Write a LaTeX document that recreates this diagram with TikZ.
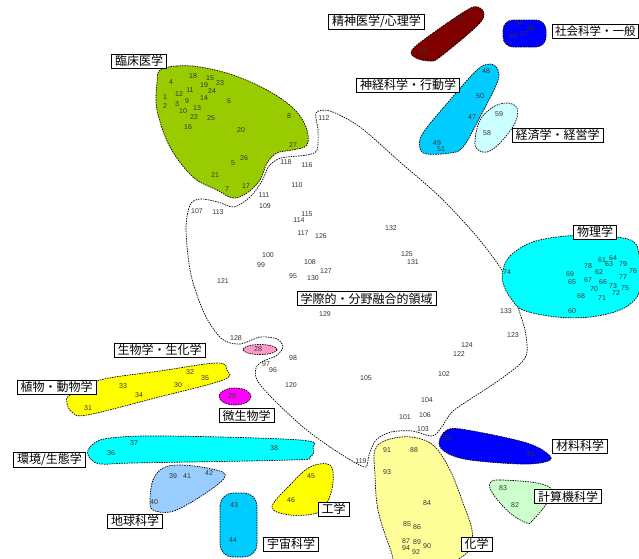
\documentclass[tikz,border=0pt]{standalone}
\usepackage{fontspec}
\setmainfont{Liberation Sans}
\newfontfamily\jpfont{Noto Sans CJK JP}
\usepackage{tikz}
\usetikzlibrary{positioning}

\definecolor{clingreen}{HTML}{99CC00}
\definecolor{psyred}{HTML}{800000}
\definecolor{socblue}{HTML}{0000FF}
\definecolor{neurocyan}{HTML}{00CCFF}
\definecolor{econcyan}{HTML}{CCFFFF}
\definecolor{physcyan}{HTML}{00FFFF}
\definecolor{plantyellow}{HTML}{FFFF00}
\definecolor{biopink}{HTML}{FF99CC}
\definecolor{micromagenta}{HTML}{FF00FF}
\definecolor{earthblue}{HTML}{99CCFF}
\definecolor{chemyellow}{HTML}{FFFF99}
\definecolor{compgreen}{HTML}{CCFFCC}

\tikzset{
  blob/.style={draw=black, dash pattern=on 1.5pt off 1pt, line width=0.7pt},
  num/.style={font=\fontsize{7}{8}\selectfont, text=black!80, inner sep=0pt},
  field/.style={draw=black, fill=white, line width=0.7pt,
    font=\jpfont\fontsize{12}{13}\selectfont, inner xsep=3.5pt, inner ysep=1.5pt}
}

\begin{document}
\begin{tikzpicture}[x=1pt,y=-1pt]
	\useasboundingbox (0,0) rectangle (639,558);
	% interdisciplinary region
	\draw[blob, fill=white] plot[smooth cycle, tension=0.5] coordinates {
		(316,113) (330,111) (360,127) (400,162) (440,197) (478,238) (505,275)
		(517,305) (525,330) (527,352) (520,364) (498,381) (472,398) (452,412)
		(441,428) (432,436) (412,431) (391,432) (376,440) (369,455) (366,467)
		(354,462) (330,447) (303,427) (272,398) (257,380) (256,368) (263,361)
		(276,356) (283,347) (277,339) (260,337) (240,344) (222,339) (205,315)
		(191,275) (186,230) (190,205) (200,199) (218,202) (234,207) (250,197)
		(262,181) (269,166) (281,158) (307,155) (317,150) (318,130)};
	% clusters
	\draw[blob, fill=clingreen] plot[smooth cycle, tension=0.6] coordinates {
		(160,70) (177,66) (200,67) (233,75) (267,90) (293,108) (306,127) (307,145)
		(292,150) (277,153) (267,163) (260,180) (247,193) (233,198) (217,190)
		(193,177) (170,147) (157,110) (157,83)};
	\draw[blob, fill=psyred] plot[smooth cycle, tension=0.6] coordinates {
		(412,50) (433,33) (467,10) (478,7) (484,14) (477,26) (440,57) (430,61) (416,58)};
	\draw[blob, fill=socblue, rounded corners=10pt] (503,20) rectangle (546,47);
	\draw[blob, fill=neurocyan] plot[smooth cycle, tension=0.6] coordinates {
		(420,148) (423,133) (450,100) (477,70) (490,64) (498,70) (497,83)
		(480,117) (463,147) (450,153) (427,154)};
	\draw[blob, fill=econcyan] plot[smooth cycle, tension=0.6] coordinates {
		(475,140) (480,120) (493,107) (507,103) (517,108) (515,123) (500,143)
		(487,152) (477,149)};
	\draw[blob, fill=physcyan] plot[smooth cycle, tension=0.6] coordinates {
		(503,270) (510,256) (530,243) (557,237) (590,235) (617,237) (634,242)
		(639,255) (640,280) (637,297) (620,310) (590,317) (557,317) (523,310)
		(510,297) (503,283)};
	\draw[blob, fill=plantyellow] plot[smooth cycle, tension=0.6] coordinates {
		(67,403) (72,412) (87,415) (155,398) (223,380) (227,370) (217,363)
		(160,371) (100,380) (70,395)};
	\draw[blob, fill=biopink] (260,349.5) ellipse [x radius=17, y radius=5];
	\draw[blob, fill=micromagenta] (235,396.5) ellipse [x radius=16, y radius=8.5];
	\draw[blob, fill=physcyan] plot[smooth cycle, tension=0.6] coordinates {
		(88,455) (92,445) (110,438) (167,436) (300,440) (313,448) (310,457)
		(290,460) (133,463) (100,464)};
	\draw[blob, fill=earthblue] plot[smooth cycle, tension=0.6] coordinates {
		(150,500) (153,480) (163,468) (180,465) (207,468) (225,474) (217,485)
		(190,503) (170,512) (153,510)};
	\draw[blob, fill=neurocyan, rounded corners=13pt] (220,493) rectangle (257,557);
	\draw[blob, fill=plantyellow] plot[smooth cycle, tension=0.6] coordinates {
		(272,507) (290,485) (310,467) (330,465) (333,483) (327,503) (317,513) (290,515)};
	\draw[blob, fill=chemyellow] plot[smooth cycle, tension=0.6] coordinates {
		(375,450) (387,440) (410,437) (433,445) (450,470) (463,503) (472,530)
		(470,548) (460,558) (440,566) (400,566) (390,548) (378,510) (375,475)};
	\draw[blob, fill=socblue] plot[smooth cycle, tension=0.6] coordinates {
		(439,443) (447,430) (467,430) (527,443) (550,456) (545,462) (520,464)
		(470,460) (447,453)};
	\draw[blob, fill=compgreen] plot[smooth cycle, tension=0.6] coordinates {
		(490,483) (500,480) (537,483) (552,490) (547,503) (533,520) (527,523)
		(510,513) (493,494)};
	% item numbers
	\foreach \i/\x/\y in {1/165/97, 2/165/106, 3/177/104, 4/171/82, 5/233/163,
		6/229/101, 7/227/189, 8/289/116, 9/187/101, 10/183/111, 11/190/90,
		12/179/94, 13/197/108, 14/204/98, 15/210/78, 16/188/127, 17/246/186,
		18/193/76, 19/204/85, 20/241/130, 21/215/175, 22/194/117, 23/220/83,
		24/212/91, 25/211/118, 26/244/158, 27/293/145, 28/258/349, 29/232/396,
		30/178/385, 31/88/408, 32/190/372, 33/123/386, 34/139/395, 35/205/378,
		36/111/453, 37/134/443, 38/274/448, 39/173/476, 40/154/502, 41/187/476,
		42/209/473, 43/234/505, 44/233/540, 45/311/476, 46/291/500}
		\node[num] (n\i) at (\x,\y) {\i};
	\foreach \i/\x/\y in {47/472/117, 48/486/71, 49/437/143, 50/480/96,
		51/441/149, 52/460/19, 53/423/51, 54/519/23, 55/531/28, 56/513/36,
		57/524/34, 58/487/133, 59/499/114, 60/572/311, 61/602/260, 62/599/272,
		63/609/264, 64/613/258, 65/572/282, 66/603/282, 67/588/280, 68/581/296,
		69/570/274, 70/594/289, 71/602/298, 72/616/293, 73/613/286, 74/507/272,
		75/625/288, 76/633/271, 77/623/277, 78/588/266, 79/623/264, 80/448/438,
		81/531/454, 82/515/505, 83/503/488, 84/427/503, 85/407/524, 86/417/527,
		87/406/541, 88/414/450, 89/417/542, 90/427/546, 91/387/450, 92/416/552,
		93/387/472, 94/406/548}
		\node[num] (n\i) at (\x,\y) {\i};
	\foreach \i/\x/\y in {95/293/276, 96/273/370, 97/266/364, 98/293/358,
		99/261/265, 100/268/255, 101/405/417, 102/444/374, 103/423/429,
		104/427/400, 105/366/378, 106/425/415, 107/197/211, 108/310/262,
		109/265/206, 110/297/185, 111/264/195, 112/324/118, 113/218/212,
		114/299/220, 115/307/214, 116/307/165, 117/303/233, 118/286/162,
		119/361/461, 120/291/385, 121/223/281, 122/459/354, 123/513/335,
		124/467/345, 125/407/254, 126/321/236, 127/326/271, 128/236/338,
		129/325/314, 130/313/278, 131/413/262, 132/391/228, 133/506/311}
		\node[num] (n\i) at (\x,\y) {\i};
	% field labels
	\node[field] (clin) at (139,61) {臨床医学};
	\node[field] (psy) at (376.5,21.5) {精神医学/心理学};
	\node[field, anchor=east, font=\jpfont\fontsize{11.5}{12.5}\selectfont,
		inner xsep=2.5pt] (soc) at (638.5,31.5) {社会科学・一般};
	\node[field] (neuro) at (408,85) {神経科学・行動学};
	\node[field] (econ) at (557.5,135) {経済学・経営学};
	\node[field] (phys) at (595,232) {物理学};
	\node[field] (inter) at (366.5,298.5) {学際的・分野融合的領域};
	\node[field] (bio) at (159.5,350) {生物学・生化学};
	\node[field] (plant) at (56.5,387) {植物・動物学};
	\node[field] (micro) at (246.5,415.5) {微生物学};
	\node[field] (env) at (49.5,459.5) {環境/生態学};
	\node[field] (earth) at (135,521) {地球科学};
	\node[field] (space) at (291,544) {宇宙科学};
	\node[field] (eng) at (333.5,509) {工学};
	\node[field] (chem) at (476.5,544) {化学};
	\node[field] (mat) at (580,446) {材料科学};
	\node[field] (comp) at (568,496.5) {計算機科学};
\end{tikzpicture}
\end{document}
